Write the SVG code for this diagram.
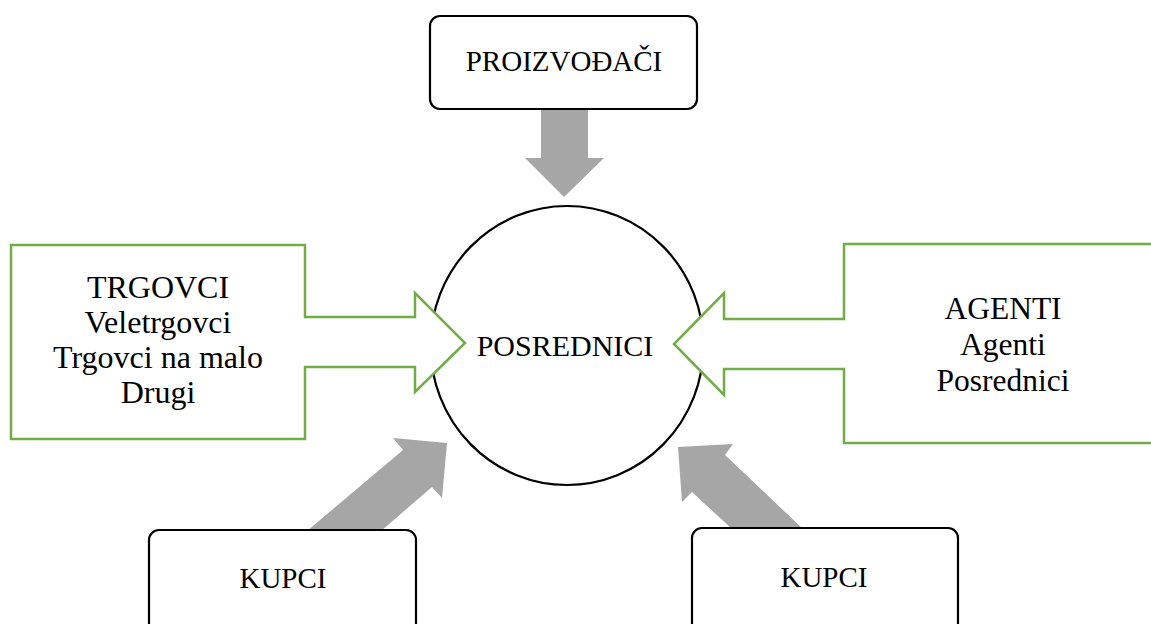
<svg xmlns="http://www.w3.org/2000/svg" width="1151" height="624" viewBox="0 0 1151 624">
<style>
.box{fill:#fff;stroke:#000;stroke-width:2.2}
.green{fill:#fff;stroke:#70AD47;stroke-width:2.5;stroke-linejoin:miter}
.gray{fill:#A6A6A6;stroke:none}
text{font-family:"Liberation Serif","Times New Roman",serif;fill:#000;text-anchor:middle}
.t29{font-size:29px}
.t30{font-size:30px}
.t31{font-size:31.5px}
.t32{font-size:32px}
</style>
<rect width="1151" height="624" fill="#fff"/>
<g id="connectors">
<polygon class="gray" points="541,108 588,108 588,158 604,158 564,197 525,158 541,158"/>
<polygon class="gray" points="381,531 432,487 442,498 447,443 393,438 403,450 307,531"/>
<polygon class="gray" points="803,529 725,455 733,444 678,447 682,502 692,492 732,529"/>
</g>
<g id="posrednici">
<ellipse cx="567" cy="345.5" rx="136.5" ry="139.5" fill="#fff" stroke="#000" stroke-width="2.2"/>
<text class="t30" x="565" y="356">POSREDNICI</text>
</g>
<g id="proizvodaci">
<rect class="box" x="430" y="16" width="267" height="93" rx="10"/>
<text class="t29" x="564" y="71">PROIZVOĐAČI</text>
</g>
<g id="trgovci">
<polygon class="green" points="11,245 305,245 305,317 415,317 415,293 465,343 415,392 415,367 305,367 305,439 11,439"/>
<text class="t32" x="158" y="298">TRGOVCI</text>
<text class="t32" x="158" y="333">Veletrgovci</text>
<text class="t32" x="158" y="368">Trgovci na malo</text>
<text class="t32" x="158" y="403">Drugi</text>
</g>
<g id="agenti">
<polygon class="green" points="1160,244 844,244 844,319 724,319 724,293 674,344 724,395 724,369 844,369 844,443 1160,443"/>
<text class="t31" x="1003" y="319">AGENTI</text>
<text class="t31" x="1003" y="355">Agenti</text>
<text class="t31" x="1003" y="391">Posrednici</text>
</g>
<g id="kupci-left">
<rect class="box" x="149" y="530" width="267" height="110" rx="10"/>
<text class="t29" x="283" y="588">KUPCI</text>
</g>
<g id="kupci-right">
<rect class="box" x="692" y="528" width="266" height="112" rx="10"/>
<text class="t29" x="824" y="587">KUPCI</text>
</g>
</svg>
